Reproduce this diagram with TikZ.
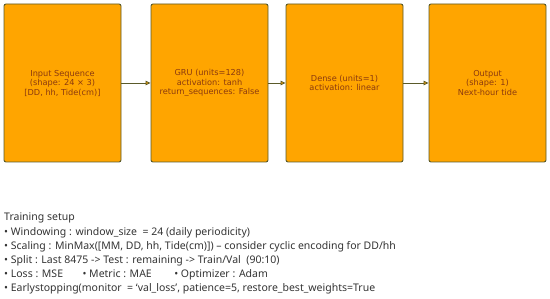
\documentclass[tikz,border=0pt]{standalone}
\usepackage{fontspec}
\setmainfont{DejaVu Sans}
\newfontfamily\setupfont{Noto Sans}
\usetikzlibrary{arrows.meta}
\definecolor{boxfill}{HTML}{FFA500}
\definecolor{boxline}{HTML}{5A5A2A}
\definecolor{boxtext}{HTML}{8B3A0F}
\definecolor{setuptext}{HTML}{333333}
\tikzset{
  layerbox/.style={draw=boxline, line width=0.9pt, fill=boxfill, rounded corners=2pt,
    minimum width=117pt, minimum height=158pt, inner sep=0pt, align=center,
    text=boxtext, font=\fontsize{8.2}{9.5}\selectfont},
  flow/.style={draw=boxline, line width=0.8pt, -{Triangle[open, length=5pt, width=4.5pt, fill=boxfill]}},
  setupline/.style={anchor=west, inner sep=0pt, text=setuptext, font=\setupfont\fontsize{10.5}{12}\selectfont}
}
\begin{document}
\begin{tikzpicture}[x=1pt,y=-1pt]
\useasboundingbox (0,0) rectangle (550,299);
\node[layerbox] (inp) at (62.5,83) {Input Sequence\\(shape: 24 × 3)\\{[}DD, hh, Tide(cm){]}};
\node[layerbox] (gru) at (209.5,83) {GRU (units=128)\\activation: tanh\\return\_sequences: False};
\node[layerbox] (dense) at (344.5,83) {Dense (units=1)\\activation: linear};
\node[layerbox] (out) at (487.5,83) {Output\\(shape: 1)\\Next-hour tide};
\draw[flow] (inp) -- (gru);
\draw[flow] (gru) -- (dense);
\draw[flow] (dense) -- (out);
\node[setupline] (t0) at (4,218) {Training setup};
\node[setupline] (t1) at (4,233) {• Windowing : window\_size \ = 24 (daily periodicity)};
\node[setupline] (t2) at (4,247) {• Scaling : MinMax([MM, DD, hh, Tide(cm)]) – consider cyclic encoding for DD/hh};
\node[setupline] (t3) at (4,261) {• Split : Last 8475 -> Test : remaining -> Train/Val \ (90:10)};
\node[setupline] (t4) at (4,275) {• Loss : MSE \hspace{14pt} • Metric : MAE \hspace{17pt} • Optimizer : Adam};
\node[setupline] (t5) at (4,289) {• Earlystopping(monitor \ = ‘val\_loss’, patience=5, restore\_best\_weights=True};
\end{tikzpicture}
\end{document}
